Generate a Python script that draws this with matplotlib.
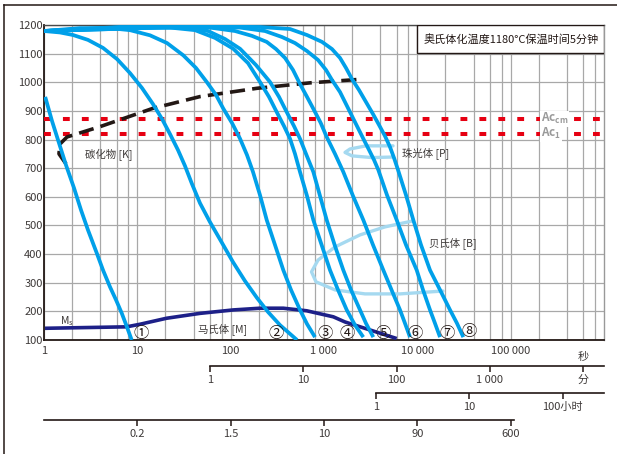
import matplotlib
matplotlib.use("Agg")
import matplotlib.pyplot as plt
import matplotlib.transforms as mtransforms
from matplotlib.lines import Line2D
from matplotlib.patches import Rectangle
from matplotlib.ticker import LogLocator, NullLocator, NullFormatter

plt.rcParams["font.family"] = ["Noto Sans CJK SC", "DejaVu Sans"]

# cooling curves: time (s), temperature (C)
C1_TIME = [1.03, 1.218, 1.447, 1.72, 2.096, 2.491, 2.96, 3.67, 4.29, 5.1, 5.91, 6.8, 7.75, 8.7]
C1_TEMP = [949, 865, 788, 711, 631, 554, 484, 404, 344, 285, 240, 194, 145, 100]

C2_TIME = [1.0, 1.48, 2.05, 2.96, 4.29, 6.06, 8.35, 11.22, 14.7, 18.38, 22.4, 27.3, 32.4,
           38.5, 46.9, 60, 80.8, 106, 142.4, 191.5, 251.2, 337.9, 514]
C2_TEMP = [1179, 1174, 1165, 1148, 1120, 1081, 1032, 980, 924, 872, 819, 763, 708,
           645, 578, 512, 439, 372, 306, 247, 198, 152, 100]

C3_TIME = [1.0, 2.43, 5.1, 8.35, 13.67, 20.8, 31.1, 42.5, 55.4, 69.6, 83.4, 103.3, 126,
           149.6, 173.5, 206.2, 243.4, 298.5, 366.5, 443.2, 553, 657.7, 801]
C3_TEMP = [1179, 1189, 1189, 1182, 1164, 1137, 1094, 1050, 1001, 956, 908, 858, 803,
           746, 687, 606, 519, 432, 344, 275, 205, 156, 110]

C4_TIME = [1.0, 6.52, 22.4, 41.5, 67.96, 106.7, 153.4, 206.2, 257.5, 311.4, 372.9, 432.4,
           489, 553, 657.7, 768.6, 952, 1160, 1413, 1751, 2149, 2638]
C4_TEMP = [1179, 1193, 1191, 1182, 1155, 1117, 1067, 1001, 949, 896, 847, 803,
           750, 687, 603, 519, 428, 344, 275, 205, 152, 110]

C5_TIME = [1.0, 8.35, 32.4, 57.2, 87, 126, 186.9, 264, 329.6, 398.5, 477, 553, 641.7,
           768.6, 906.3, 1069, 1312, 1610, 1948, 2431, 2819, 3376]
C5_TEMP = [1179, 1193, 1191, 1179, 1151, 1117, 1060, 1001, 949, 896, 847, 803, 750,
           687, 603, 519, 428, 344, 275, 205, 158, 110]

C6_TIME = [1.0, 13.67, 60, 111.3, 169.3, 243.4, 306, 382.2, 465.5, 553, 657.7, 781.6,
           922.3, 1069, 1312, 1610, 2046, 2638, 3350, 4321, 5354, 6523, 7379, 8349]
C6_TEMP = [1179, 1193, 1191, 1179, 1162, 1141, 1116, 1085, 1043, 994, 949, 903,
           858, 809, 750, 687, 603, 519, 432, 344, 271, 205, 158, 110]

C7_TIME = [1.0, 28.7, 126, 233.3, 354.9, 489, 657.7, 862.6, 1051, 1218, 1484, 1721, 1995,
           2314, 2684, 3035, 3434, 3819, 4733, 6012, 7561, 9847, 11504, 13670, 15470, 17500]
C7_TEMP = [1179, 1193, 1191, 1179, 1158, 1137, 1109, 1078, 1043, 1008, 966, 924, 882,
           840, 798, 764, 729, 694, 606, 519, 432, 344, 275, 205, 158, 110]

C8_TIME = [1.0, 46.9, 206.2, 432.4, 657.7, 952, 1218, 1484, 1721, 1995, 2372, 2819, 3350,
           3886, 4506, 5096, 5625, 6209, 7561, 9058, 10950, 13670, 17500, 22400, 26620, 31090]
C8_TEMP = [1179, 1195, 1193, 1186, 1165, 1141, 1116, 1085, 1050, 1011, 973, 931, 889,
           851, 812, 774, 736, 694, 606, 519, 432, 344, 275, 205, 158, 110]

# carbide precipitation line
CARB_TIME = [1.72, 1.447, 1.48, 1.764, 3.98, 14.7, 46.9, 191.5, 708, 2618]
CARB_TEMP = [715, 750, 784, 809, 845, 909, 950, 979, 998, 1011]

# pearlite and bainite start loops
PEARL_TIME = [5488, 2819, 1900, 1679, 1995, 3268, 5488]
PEARL_TEMP = [778, 778, 767, 755, 743, 737, 739]

BAIN_TIME = [8988, 4506, 2431, 1312, 862.6, 734.8, 821.2, 1312, 2750, 6523, 18840]
BAIN_TEMP = [516, 495, 467, 425, 379, 338, 303, 275, 261, 261, 271]

# martensite start
MS_TIME = [1.07, 7.69, 10.68, 20.6, 46.9, 106.7, 206.2, 366.5, 652.7, 1258, 1679, 3112, 5765]
MS_TEMP = [141, 146, 155, 176, 193, 205, 211, 211, 202, 181, 163, 135, 107]

AC_CM = 873
AC_1 = 821

CIRCLE_LABELS = ["①", "②", "③", "④", "⑤", "⑥", "⑦", "⑧"]
CIRCLE_TIME = [10.95, 306, 1025, 1764, 4289, 9443, 20800, 35780]
CIRCLE_TEMP = [124, 124, 124, 124, 124, 124, 124, 131]

X_TICKS = [1, 10, 100, 1000, 10000, 100000]
X_LABELS = ["1", "10", "100", "1 000", "10 000", "100 000"]
Y_TICKS = list(range(100, 1300, 100))

MIN_TICKS = [1, 10, 100, 1000, 10000]
MIN_LABELS = ["1", "10", "100", "1 000", "分"]
HOUR_TICKS = [1, 10, 100]
HOUR_LABELS = ["1", "10", "100小时"]
EXTRA_TICKS = [10, 100, 1000, 10000, 100000]
EXTRA_LABELS = ["0.2", "1.5", "10", "90", "600"]

CYAN = "#00a0e9"
LIGHT = "#a5d9f0"
NAVY = "#1d2088"
RED = "#e60012"
DARK = "#231815"
TEXT = "#3e3a39"


def main() -> None:
    fig = plt.figure(figsize=(6.17, 4.54), dpi=100)
    ax = fig.add_axes([44 / 617, 1 - 340 / 454, 560 / 617, 315 / 454])
    ax.set_xscale("log")
    ax.set_xlim(1, 1e6)
    ax.set_ylim(100, 1200)

    ax.set_xticks(X_TICKS, X_LABELS)
    ax.xaxis.set_minor_locator(LogLocator(base=10, subs=(2, 4, 6, 8)))
    ax.xaxis.set_minor_formatter(NullFormatter())
    ax.set_yticks(Y_TICKS, [str(v) for v in Y_TICKS])
    ax.tick_params(which="both", length=0, labelsize=8, labelcolor=TEXT)
    ax.tick_params(axis="x", pad=4)
    ax.tick_params(axis="y", pad=1)
    ax.grid(True, which="both", axis="x", color="#a8a8a8", lw=0.9)
    ax.grid(True, which="major", axis="y", color="#a8a8a8", lw=0.9)
    ax.set_axisbelow(True)
    for side in ("left", "bottom"):
        ax.spines[side].set_color(DARK)
        ax.spines[side].set_linewidth(1.3)
    ax.spines["top"].set_color("#4a4a4a")
    ax.spines["top"].set_linewidth(1.0)
    ax.spines["right"].set_color("#999999")
    ax.spines["right"].set_linewidth(1.0)

    # Ac lines
    for temp in (AC_CM, AC_1):
        ax.plot([1, 1e6], [temp, temp], color=RED, lw=2.9,
                dashes=(1.7, 3.0), solid_capstyle="butt", zorder=3)

    # carbide line
    ax.plot(CARB_TIME, CARB_TEMP, color=DARK, lw=2.6, dashes=(4.2, 2.0),
            dash_capstyle="butt", dash_joinstyle="round", zorder=4)

    # transformation loops
    ax.plot(PEARL_TIME, PEARL_TEMP, color=LIGHT, lw=2.4, zorder=4,
            solid_joinstyle="round", solid_capstyle="round")
    ax.plot(BAIN_TIME, BAIN_TEMP, color=LIGHT, lw=2.4, zorder=4,
            solid_joinstyle="round", solid_capstyle="round")

    # Ms
    ax.plot(MS_TIME, MS_TEMP, color=NAVY, lw=2.6, zorder=4,
            solid_joinstyle="round")

    curves = [
        (C1_TIME, C1_TEMP), (C2_TIME, C2_TEMP), (C3_TIME, C3_TEMP),
        (C4_TIME, C4_TEMP), (C5_TIME, C5_TEMP), (C6_TIME, C6_TEMP),
        (C7_TIME, C7_TEMP), (C8_TIME, C8_TEMP),
    ]
    for times, temps in curves:
        ax.plot(times, temps, color=CYAN, lw=2.7, zorder=5,
                solid_joinstyle="round", solid_capstyle="butt")

    for lab, t, temp in zip(CIRCLE_LABELS, CIRCLE_TIME, CIRCLE_TEMP):
        ax.text(t, temp, lab, fontsize=11, color=DARK, ha="center", va="center", zorder=6)

    ax.text(4.97, 746, "碳化物 [K]", fontsize=7.5, color=TEXT, ha="center", va="center")
    ax.text(12390, 752, "珠光体 [P]", fontsize=7.5, color=TEXT, ha="center", va="center")
    ax.text(24120, 440, "贝氏体 [B]", fontsize=7.5, color=TEXT, ha="center", va="center")
    ax.text(82.8, 138, "马氏体 [M]", fontsize=7.5, color=TEXT, ha="center", va="center")
    ax.text(1.48, 166, r"M$_\mathregular{s}$", fontsize=7.5, color=TEXT, ha="left", va="center")

    for temp, lab in ((AC_CM, r"Ac$_\mathregular{cm}$"), (AC_1, r"Ac$_\mathregular{1}$")):
        ax.text(2.1e5, temp, lab, fontsize=8.5, color="#9a9a9a", fontweight="bold",
                ha="left", va="center", zorder=6,
                bbox=dict(boxstyle="square,pad=0.05", fc="white", ec="none"))

    # condition box
    ax.add_patch(Rectangle((0.6666, 0.91), 0.3334, 0.09, transform=ax.transAxes,
                           fc="white", ec=DARK, lw=1.0, zorder=7))
    ax.text(0.8334, 0.9556, "奥氏体化温度1180°C保温时间5分钟", transform=ax.transAxes,
            fontsize=8, color=DARK, ha="center", va="center", zorder=8)

    blend = mtransforms.blended_transform_factory(ax.transData, ax.transAxes)
    ax.text(6e5, -0.053, "秒", transform=blend, fontsize=8, color=TEXT,
            ha="center", va="center")

    # lower scales
    def add_scale(loc, funcs, ticks, labels, lo, hi):
        sec = ax.secondary_xaxis(loc, functions=funcs)
        sec.set_xticks(ticks, labels)
        sec.xaxis.set_minor_locator(NullLocator())
        sec.tick_params(which="major", length=4.5, width=1.1, color=DARK,
                        direction="out", labelsize=8, labelcolor=TEXT, pad=2)
        sec.spines["bottom"].set_bounds(lo, hi)
        sec.spines["bottom"].set_color(DARK)
        sec.spines["bottom"].set_linewidth(1.2)
        sec.spines["top"].set_visible(False)
        return sec

    add_scale(-0.0816, (lambda s: s / 60.0, lambda m: m * 60.0),
              MIN_TICKS, MIN_LABELS, 1, 1e6 / 60.0)
    add_scale(-0.1683, (lambda s: s / 3600.0, lambda h: h * 3600.0),
              HOUR_TICKS, HOUR_LABELS, 1, 1e6 / 3600.0)
    add_scale(-0.254, (lambda s: s, lambda s: s),
              EXTRA_TICKS, EXTRA_LABELS, 1, 1.09e5)

    # outer frame (top and left only)
    fig.add_artist(Line2D([4 / 617, 4 / 617], [0, 1 - 5 / 454], transform=fig.transFigure,
                          color=DARK, lw=1.1))
    fig.add_artist(Line2D([4 / 617, 1], [1 - 5 / 454, 1 - 5 / 454], transform=fig.transFigure,
                          color=DARK, lw=1.1))

    fig.savefig("out.png", dpi=100)
    plt.close(fig)


if __name__ == "__main__":
    main()
